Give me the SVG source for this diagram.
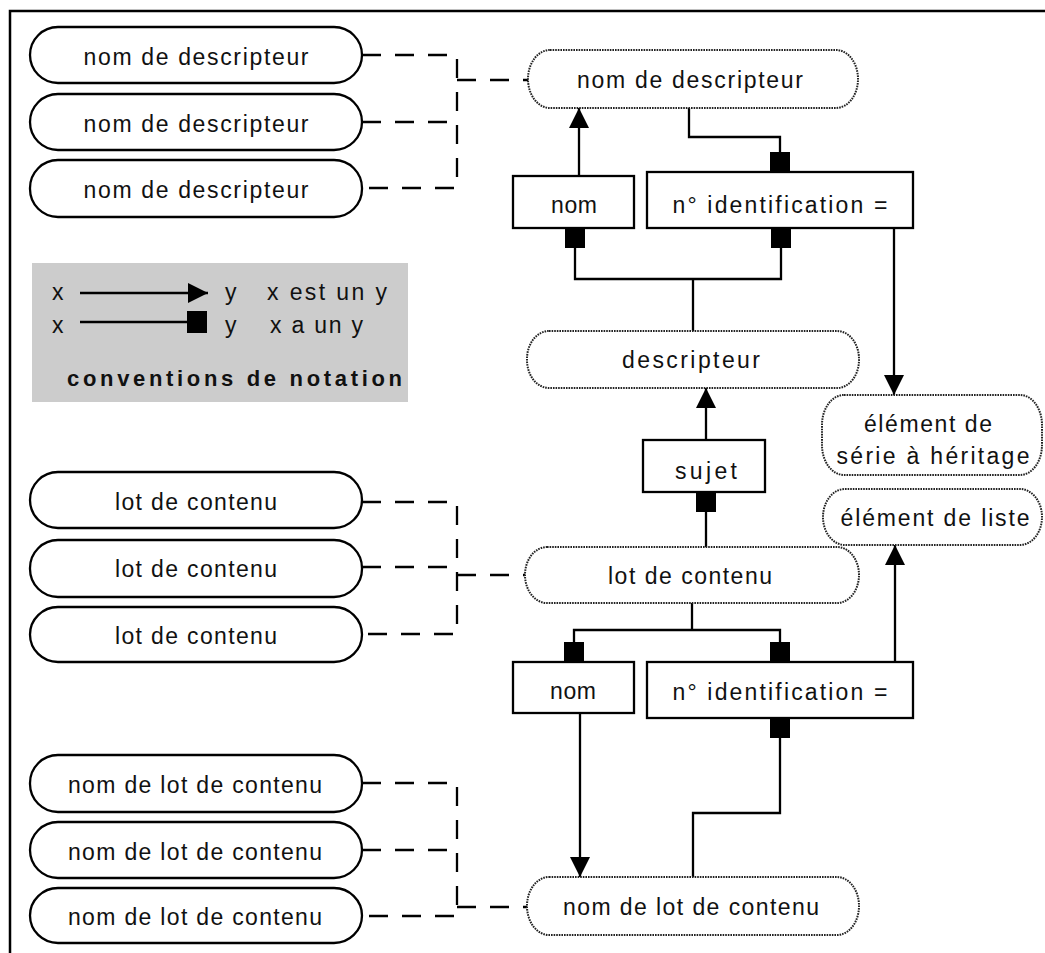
<svg xmlns="http://www.w3.org/2000/svg" width="1045" height="953" viewBox="0 0 1045 953">
  <style>
    text { font-family: "Liberation Sans", Arial, Helvetica, sans-serif; font-size: 23px; fill: #111; }
    .mid { text-anchor: middle; }
    .bold { font-weight: bold; font-size: 22px; }
    .term { fill: #fff; stroke: #000; stroke-width: 2.3; }
    .concept { fill: #fff; stroke: #222; stroke-width: 2; stroke-dasharray: 1.6 1; }
    .box { fill: #fff; stroke: #000; stroke-width: 2.3; }
    .link { fill: none; stroke: #000; stroke-width: 2.3; }
    .dash { fill: none; stroke: #000; stroke-width: 2.3; stroke-dasharray: 19 14; }
    .frame { fill: none; stroke: #000; stroke-width: 2.5; }
  </style>
  <defs>
    <marker id="isa" viewBox="0 0 20 20" refX="20" refY="10" markerWidth="20" markerHeight="20" markerUnits="userSpaceOnUse" orient="auto">
      <path d="M0,0 L20,10 L0,20 Z" fill="#000"/>
    </marker>
  </defs>

  <!-- frame -->
  <path class="frame" d="M10,953 V11 H1045"/>

  <!-- connectors -->
  <g id="connectors">
    <!-- term variants to concept (dashed) -->
    <path class="dash" d="M362,55 H457 V188 H362"/>
    <path class="dash" d="M362,122 H457"/>
    <path class="dash" d="M457,80 H528"/>

    <path class="dash" d="M362,502 H457 V634 H362"/>
    <path class="dash" d="M362,567 H457"/>
    <path class="dash" d="M457,575 H525"/>

    <path class="dash" d="M362,783 H457 V916 H362"/>
    <path class="dash" d="M362,850 H457"/>
    <path class="dash" d="M457,907 H527"/>

    <!-- descriptor name -->
    <path class="link" d="M579,176 V108" marker-end="url(#isa)"/>
    <path class="link" d="M689,108 V137 H780 V152"/>
    <rect x="770" y="152" width="20" height="20" fill="#000"/>
    <path class="link" d="M894,228 V395" marker-end="url(#isa)"/>

    <!-- descriptor -->
    <rect x="565" y="228" width="20" height="20" fill="#000"/>
    <rect x="771" y="228" width="20" height="20" fill="#000"/>
    <path class="link" d="M575,248 V279 H781 V248"/>
    <path class="link" d="M693,279 V331"/>
    <path class="link" d="M706,440 V388" marker-end="url(#isa)"/>

    <!-- content lot -->
    <rect x="696" y="492" width="20" height="20" fill="#000"/>
    <path class="link" d="M706,512 V547"/>
    <path class="link" d="M692,603 V630"/>
    <path class="link" d="M574,642 V630 H780 V642"/>
    <rect x="564" y="642" width="20" height="20" fill="#000"/>
    <rect x="770" y="642" width="20" height="20" fill="#000"/>
    <path class="link" d="M895,662 V545" marker-end="url(#isa)"/>

    <!-- content lot name -->
    <path class="link" d="M580,713 V877" marker-end="url(#isa)"/>
    <rect x="770" y="718" width="20" height="20" fill="#000"/>
    <path class="link" d="M780,738 V813 H693 V877"/>
  </g>

  <!-- descriptor name terms -->
  <g id="term-desc-1">
    <rect class="term" x="30" y="27" width="332" height="56" rx="28" ry="28"/>
    <text class="mid" x="196" y="65" textLength="225">nom de descripteur</text>
  </g>
  <g id="term-desc-2">
    <rect class="term" x="30" y="94" width="332" height="56" rx="28" ry="28"/>
    <text class="mid" x="196" y="132" textLength="225">nom de descripteur</text>
  </g>
  <g id="term-desc-3">
    <rect class="term" x="30" y="160" width="332" height="57" rx="28" ry="28"/>
    <text class="mid" x="196" y="198" textLength="225">nom de descripteur</text>
  </g>

  <!-- notation legend -->
  <g id="legend">
    <rect x="32" y="263" width="376" height="139" fill="#cccccc"/>
    <text x="52" y="300">x</text>
    <path class="link" d="M80,293 H208" marker-end="url(#isa)"/>
    <text x="225" y="300">y</text>
    <text x="267" y="300" textLength="120">x est un y</text>
    <text x="52" y="333">x</text>
    <path class="link" d="M80,322 H190"/>
    <rect x="187" y="311" width="20" height="22" fill="#000"/>
    <text x="225" y="333">y</text>
    <text x="270" y="333" textLength="93">x a un y</text>
    <text class="bold" x="67" y="386" textLength="335">conventions de notation</text>
  </g>

  <!-- content lot terms -->
  <g id="term-lot-1">
    <rect class="term" x="30" y="472" width="332" height="56" rx="28" ry="28"/>
    <text class="mid" x="196" y="510" textLength="162">lot de contenu</text>
  </g>
  <g id="term-lot-2">
    <rect class="term" x="30" y="540" width="332" height="57" rx="28" ry="28"/>
    <text class="mid" x="196" y="577" textLength="162">lot de contenu</text>
  </g>
  <g id="term-lot-3">
    <rect class="term" x="30" y="607" width="332" height="55" rx="28" ry="28"/>
    <text class="mid" x="196" y="644" textLength="162">lot de contenu</text>
  </g>

  <!-- content lot name terms -->
  <g id="term-lotname-1">
    <rect class="term" x="30" y="755" width="332" height="57" rx="28" ry="28"/>
    <text class="mid" x="195" y="793" textLength="254">nom de lot de contenu</text>
  </g>
  <g id="term-lotname-2">
    <rect class="term" x="30" y="822" width="332" height="56" rx="28" ry="28"/>
    <text class="mid" x="195" y="860" textLength="254">nom de lot de contenu</text>
  </g>
  <g id="term-lotname-3">
    <rect class="term" x="30" y="888" width="332" height="55" rx="28" ry="28"/>
    <text class="mid" x="195" y="925" textLength="254">nom de lot de contenu</text>
  </g>

  <!-- concepts -->
  <g id="concept-desc-name">
    <rect class="concept" x="528" y="50" width="330" height="58" rx="22" ry="29"/>
    <text class="mid" x="690" y="88" textLength="226">nom de descripteur</text>
  </g>
  <g id="attr-nom-1">
    <rect class="box" x="513" y="176" width="121" height="52"/>
    <text class="mid" x="574" y="213" textLength="46">nom</text>
  </g>
  <g id="attr-id-1">
    <rect class="box" x="647" y="172" width="266" height="56"/>
    <text class="mid" x="780" y="213" textLength="215">n° identification =</text>
  </g>
  <g id="concept-desc">
    <rect class="concept" x="527" y="331" width="332" height="57" rx="22" ry="28"/>
    <text class="mid" x="691" y="368" textLength="138">descripteur</text>
  </g>
  <g id="concept-inherit">
    <rect class="concept" x="822" y="395" width="220" height="80" rx="22" ry="30"/>
    <text class="mid" x="928" y="432" textLength="128">élément de</text>
    <text class="mid" x="933" y="464" textLength="193">série à héritage</text>
  </g>
  <g id="attr-sujet">
    <rect class="box" x="643" y="440" width="122" height="52"/>
    <text class="mid" x="706" y="479" textLength="62">sujet</text>
  </g>
  <g id="concept-list">
    <rect class="concept" x="823" y="489" width="219" height="56" rx="22" ry="28"/>
    <text class="mid" x="935" y="526" textLength="189">élément de liste</text>
  </g>
  <g id="concept-lot">
    <rect class="concept" x="525" y="547" width="334" height="56" rx="22" ry="28"/>
    <text class="mid" x="690" y="584" textLength="164">lot de contenu</text>
  </g>
  <g id="attr-nom-2">
    <rect class="box" x="513" y="662" width="121" height="51"/>
    <text class="mid" x="573" y="699" textLength="46">nom</text>
  </g>
  <g id="attr-id-2">
    <rect class="box" x="647" y="662" width="266" height="56"/>
    <text class="mid" x="780" y="700" textLength="215">n° identification =</text>
  </g>
  <g id="concept-lotname">
    <rect class="concept" x="527" y="877" width="332" height="58" rx="22" ry="29"/>
    <text class="mid" x="691" y="915" textLength="256">nom de lot de contenu</text>
  </g>
</svg>
